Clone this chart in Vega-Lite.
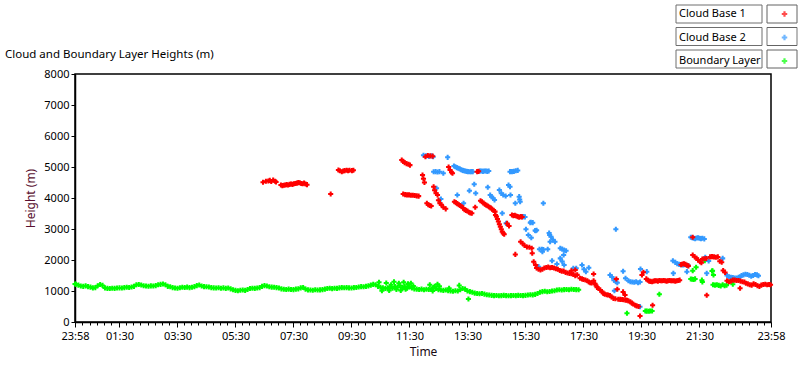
{
"$schema":"https://vega.github.io/schema/vega-lite/v6.json",
"width":696,"height":248,
"autosize":{"type":"none"},
"padding":{"left":75,"top":74,"right":29,"bottom":43},
"background":"white",
"config":{"view":{"stroke":"#000","strokeWidth":1.5},"font":"Noto Sans"},
"title":{"text":"Cloud and Boundary Layer Heights (m)","anchor":"start","frame":"group","dx":-70,"dy":62,"offset":10,"fontSize":11.5,"fontWeight":"normal","font":"Noto Sans","color":"#000"},
"datasets":{
"bl":[
{"t":"1 23:58","h":1225},{"t":"2 00:00","h":1220},{"t":"2 00:05","h":1190},{"t":"2 00:10","h":1160},{"t":"2 00:15","h":1150},{"t":"2 00:20","h":1165},{"t":"2 00:25","h":1140},{"t":"2 00:30","h":1125},{"t":"2 00:35","h":1100},{"t":"2 00:40","h":1110},{"t":"2 00:45","h":1170},{"t":"2 00:50","h":1210},{"t":"2 00:55","h":1180},
{"t":"2 01:00","h":1100},{"t":"2 01:05","h":1085},{"t":"2 01:10","h":1080},{"t":"2 01:15","h":1090},{"t":"2 01:20","h":1085},{"t":"2 01:25","h":1095},{"t":"2 01:30","h":1100},{"t":"2 01:35","h":1095},{"t":"2 01:40","h":1110},{"t":"2 01:45","h":1120},{"t":"2 01:50","h":1115},{"t":"2 01:55","h":1130},
{"t":"2 02:00","h":1150},{"t":"2 02:05","h":1200},{"t":"2 02:10","h":1210},{"t":"2 02:15","h":1195},{"t":"2 02:20","h":1170},{"t":"2 02:25","h":1160},{"t":"2 02:30","h":1155},{"t":"2 02:35","h":1165},{"t":"2 02:40","h":1160},{"t":"2 02:45","h":1175},{"t":"2 02:50","h":1200},{"t":"2 02:55","h":1215},
{"t":"2 03:00","h":1225},{"t":"2 03:05","h":1200},{"t":"2 03:10","h":1150},{"t":"2 03:15","h":1135},{"t":"2 03:20","h":1110},{"t":"2 03:25","h":1095},{"t":"2 03:30","h":1090},{"t":"2 03:35","h":1105},{"t":"2 03:40","h":1120},{"t":"2 03:45","h":1115},{"t":"2 03:50","h":1125},{"t":"2 03:55","h":1110},
{"t":"2 04:00","h":1120},{"t":"2 04:05","h":1140},{"t":"2 04:10","h":1175},{"t":"2 04:15","h":1195},{"t":"2 04:20","h":1160},{"t":"2 04:25","h":1140},{"t":"2 04:30","h":1135},{"t":"2 04:35","h":1130},{"t":"2 04:40","h":1110},{"t":"2 04:45","h":1100},{"t":"2 04:50","h":1095},{"t":"2 04:55","h":1105},
{"t":"2 05:00","h":1090},{"t":"2 05:05","h":1100},{"t":"2 05:10","h":1085},{"t":"2 05:15","h":1095},{"t":"2 05:20","h":1070},{"t":"2 05:25","h":1040},{"t":"2 05:30","h":1020},{"t":"2 05:35","h":1010},{"t":"2 05:40","h":1025},{"t":"2 05:45","h":1030},{"t":"2 05:50","h":1020},{"t":"2 05:55","h":1050},
{"t":"2 06:00","h":1080},{"t":"2 06:05","h":1090},{"t":"2 06:10","h":1085},{"t":"2 06:15","h":1095},{"t":"2 06:20","h":1110},{"t":"2 06:25","h":1150},{"t":"2 06:30","h":1175},{"t":"2 06:35","h":1160},{"t":"2 06:40","h":1135},{"t":"2 06:45","h":1125},{"t":"2 06:50","h":1120},{"t":"2 06:55","h":1110},
{"t":"2 07:00","h":1095},{"t":"2 07:05","h":1070},{"t":"2 07:10","h":1055},{"t":"2 07:15","h":1050},{"t":"2 07:20","h":1060},{"t":"2 07:25","h":1050},{"t":"2 07:30","h":1045},{"t":"2 07:35","h":1060},{"t":"2 07:40","h":1070},{"t":"2 07:45","h":1100},{"t":"2 07:50","h":1115},{"t":"2 07:55","h":1060},
{"t":"2 08:00","h":1035},{"t":"2 08:05","h":1030},{"t":"2 08:10","h":1025},{"t":"2 08:15","h":1040},{"t":"2 08:20","h":1030},{"t":"2 08:25","h":1035},{"t":"2 08:30","h":1045},{"t":"2 08:35","h":1060},{"t":"2 08:40","h":1080},{"t":"2 08:45","h":1090},{"t":"2 08:50","h":1075},{"t":"2 08:55","h":1090},
{"t":"2 09:00","h":1085},{"t":"2 09:05","h":1100},{"t":"2 09:10","h":1110},{"t":"2 09:15","h":1105},{"t":"2 09:20","h":1110},{"t":"2 09:25","h":1100},{"t":"2 09:30","h":1095},{"t":"2 09:35","h":1110},{"t":"2 09:40","h":1115},{"t":"2 09:45","h":1130},{"t":"2 09:50","h":1140},{"t":"2 09:55","h":1135},
{"t":"2 10:00","h":1150},{"t":"2 10:05","h":1165},{"t":"2 10:10","h":1190},{"t":"2 10:15","h":1215},{"t":"2 10:20","h":1200},{"t":"2 10:25","h":1150},{"t":"2 10:30","h":1120},{"t":"2 10:35","h":1100},{"t":"2 10:40","h":1080},{"t":"2 10:45","h":1100},{"t":"2 10:50","h":1130},{"t":"2 10:55","h":1090},
{"t":"2 11:00","h":1140},{"t":"2 11:05","h":1120},{"t":"2 11:10","h":1180},{"t":"2 11:15","h":1110},{"t":"2 11:20","h":1150},{"t":"2 11:25","h":1090},{"t":"2 11:30","h":1130},{"t":"2 11:35","h":1100},{"t":"2 11:40","h":1070},{"t":"2 11:45","h":1060},{"t":"2 11:50","h":1050},{"t":"2 11:55","h":1060},
{"t":"2 12:00","h":1040},{"t":"2 12:05","h":1055},{"t":"2 12:10","h":1050},{"t":"2 12:15","h":1065},{"t":"2 12:20","h":1110},{"t":"2 12:25","h":1080},{"t":"2 12:30","h":1040},{"t":"2 12:35","h":1030},{"t":"2 12:40","h":1020},{"t":"2 12:45","h":1030},{"t":"2 12:50","h":1010},{"t":"2 12:55","h":1000},
{"t":"2 13:00","h":990},{"t":"2 13:05","h":1010},{"t":"2 13:10","h":1000},{"t":"2 13:15","h":1040},{"t":"2 13:20","h":1080},{"t":"2 13:25","h":1060},{"t":"2 13:30","h":1000},{"t":"2 13:35","h":980},{"t":"2 13:40","h":960},{"t":"2 13:45","h":930},{"t":"2 13:50","h":920},{"t":"2 13:55","h":910},
{"t":"2 14:00","h":920},{"t":"2 14:05","h":900},{"t":"2 14:10","h":880},{"t":"2 14:15","h":870},{"t":"2 14:20","h":860},{"t":"2 14:25","h":850},{"t":"2 14:30","h":855},{"t":"2 14:35","h":845},{"t":"2 14:40","h":850},{"t":"2 14:45","h":860},{"t":"2 14:50","h":850},{"t":"2 14:55","h":845},
{"t":"2 15:00","h":850},{"t":"2 15:05","h":855},{"t":"2 15:10","h":850},{"t":"2 15:15","h":860},{"t":"2 15:20","h":855},{"t":"2 15:25","h":850},{"t":"2 15:30","h":860},{"t":"2 15:35","h":870},{"t":"2 15:40","h":880},{"t":"2 15:45","h":875},{"t":"2 15:50","h":890},{"t":"2 15:55","h":920},
{"t":"2 16:00","h":960},{"t":"2 16:05","h":980},{"t":"2 16:10","h":990},{"t":"2 16:15","h":975},{"t":"2 16:20","h":985},{"t":"2 16:25","h":1000},{"t":"2 16:30","h":1010},{"t":"2 16:35","h":1030},{"t":"2 16:40","h":1040},{"t":"2 16:45","h":1030},{"t":"2 16:50","h":1045},{"t":"2 16:55","h":1050},
{"t":"2 17:00","h":1040},{"t":"2 17:05","h":1055},{"t":"2 17:10","h":1050},{"t":"2 17:15","h":1045},{"t":"2 17:20","h":1040},
{"t":"2 10:27","h":1280},{"t":"2 10:33","h":1010},{"t":"2 10:42","h":1260},{"t":"2 10:48","h":1020},{"t":"2 10:52","h":1200},{"t":"2 10:58","h":1300},{"t":"2 11:03","h":1050},{"t":"2 11:08","h":1250},{"t":"2 11:12","h":1020},{"t":"2 11:18","h":1280},{"t":"2 11:22","h":1060},{"t":"2 11:27","h":1230},{"t":"2 11:33","h":1250},{"t":"2 11:38","h":1160},{"t":"2 12:12","h":1200},{"t":"2 12:18","h":1000},{"t":"2 12:22","h":1150},{"t":"2 12:28","h":1220},{"t":"2 12:32","h":1150},{"t":"2 12:52","h":1090},{"t":"2 13:13","h":1180},{"t":"2 13:32","h":740},
{"t":"2 19:00","h":280},{"t":"2 19:38","h":355},{"t":"2 19:41","h":350},{"t":"2 19:45","h":345},{"t":"2 19:48","h":355},{"t":"2 19:52","h":355},{"t":"2 20:07","h":893},
{"t":"2 21:12","h":1387},{"t":"2 21:15","h":1380},{"t":"2 21:18","h":1370},{"t":"2 21:21","h":1390},{"t":"2 21:16","h":1656},{"t":"2 21:23","h":1764},{"t":"2 21:35","h":1350},{"t":"2 21:36","h":1290},{"t":"2 21:41","h":1978},{"t":"2 21:56","h":1645},{"t":"2 21:57","h":1650},{"t":"2 21:59","h":1516},
{"t":"2 21:58","h":1200},{"t":"2 22:02","h":1190},{"t":"2 22:06","h":1200},{"t":"2 22:10","h":1180},{"t":"2 22:14","h":1160},{"t":"2 22:18","h":1200},{"t":"2 22:22","h":1170},{"t":"2 22:26","h":1190},{"t":"2 22:39","h":1216}
],
"cb1":[
{"t":"2 06:27","h":4507},{"t":"2 06:33","h":4540},{"t":"2 06:38","h":4549},{"t":"2 06:41","h":4570},{"t":"2 06:44","h":4530},{"t":"2 06:48","h":4580},{"t":"2 06:52","h":4540},{"t":"2 06:54","h":4515},
{"t":"2 07:04","h":4420},{"t":"2 07:07","h":4400},{"t":"2 07:10","h":4410},{"t":"2 07:13","h":4420},{"t":"2 07:16","h":4430},{"t":"2 07:19","h":4420},{"t":"2 07:22","h":4440},{"t":"2 07:25","h":4450},{"t":"2 07:28","h":4440},{"t":"2 07:31","h":4460},{"t":"2 07:34","h":4470},{"t":"2 07:37","h":4480},{"t":"2 07:40","h":4495},{"t":"2 07:43","h":4490},{"t":"2 07:46","h":4470},{"t":"2 07:49","h":4460},{"t":"2 07:52","h":4480},{"t":"2 07:55","h":4450},{"t":"2 07:58","h":4430},
{"t":"2 08:47","h":4129},
{"t":"2 09:03","h":4903},{"t":"2 09:06","h":4880},{"t":"2 09:10","h":4849},{"t":"2 09:13","h":4870},{"t":"2 09:16","h":4882},{"t":"2 09:20","h":4893},{"t":"2 09:23","h":4880},{"t":"2 09:26","h":4893},{"t":"2 09:31","h":4882},{"t":"2 09:34","h":4893},
{"t":"2 11:14","h":5226},{"t":"2 11:17","h":5180},{"t":"2 11:20","h":5140},{"t":"2 11:24","h":5110},{"t":"2 11:28","h":5087},{"t":"2 11:31","h":5060},
{"t":"2 11:17","h":4130},{"t":"2 11:21","h":4110},{"t":"2 11:25","h":4100},{"t":"2 11:29","h":4100},{"t":"2 11:33","h":4090},{"t":"2 11:37","h":4090},{"t":"2 11:41","h":4080},{"t":"2 11:45","h":4070},{"t":"2 11:49","h":4060},
{"t":"2 11:57","h":4740},{"t":"2 11:59","h":4620},{"t":"2 12:01","h":4500},
{"t":"2 12:03","h":5330},{"t":"2 12:08","h":5370},{"t":"2 12:13","h":5360},{"t":"2 12:18","h":5350},
{"t":"2 12:06","h":3830},{"t":"2 12:09","h":3780},{"t":"2 12:12","h":3760},{"t":"2 12:15","h":3740},
{"t":"2 12:20","h":4360},{"t":"2 12:22","h":4250},{"t":"2 12:25","h":4150},{"t":"2 12:28","h":4100},
{"t":"2 12:30","h":3930},{"t":"2 12:33","h":3830},{"t":"2 12:36","h":3780},{"t":"2 12:40","h":3700},{"t":"2 12:45","h":3650},
{"t":"2 12:51","h":5000},{"t":"2 12:54","h":4900},{"t":"2 12:57","h":4830},{"t":"2 12:59","h":4800},
{"t":"2 13:03","h":3880},{"t":"2 13:06","h":3850},{"t":"2 13:09","h":3820},{"t":"2 13:12","h":3780},{"t":"2 13:15","h":3760},{"t":"2 13:18","h":3720},{"t":"2 13:21","h":3680},{"t":"2 13:24","h":3620},{"t":"2 13:27","h":3600},{"t":"2 13:30","h":3580},{"t":"2 13:33","h":3540},{"t":"2 13:36","h":3520},{"t":"2 13:39","h":3510},{"t":"2 13:46","h":3700},
{"t":"2 13:50","h":4850},{"t":"2 13:53","h":4860},
{"t":"2 13:57","h":3910},{"t":"2 14:00","h":3880},{"t":"2 14:03","h":3840},{"t":"2 14:06","h":3800},{"t":"2 14:09","h":3770},{"t":"2 14:12","h":3740},{"t":"2 14:15","h":3710},{"t":"2 14:18","h":3680},{"t":"2 14:21","h":3640},{"t":"2 14:24","h":3600},{"t":"2 14:27","h":3560},
{"t":"2 14:28","h":3450},{"t":"2 14:30","h":3400},{"t":"2 14:32","h":3320},{"t":"2 14:34","h":3240},{"t":"2 14:36","h":3150},{"t":"2 14:38","h":3070},{"t":"2 14:40","h":2990},{"t":"2 14:42","h":2910},{"t":"2 14:44","h":2860},{"t":"2 14:46","h":2830},
{"t":"2 14:52","h":3180},{"t":"2 14:56","h":3100},
{"t":"2 15:02","h":3450},{"t":"2 15:05","h":3430},{"t":"2 15:08","h":3440},{"t":"2 15:11","h":3420},{"t":"2 15:14","h":3400},{"t":"2 15:17","h":3380},{"t":"2 15:20","h":3400},{"t":"2 15:23","h":3390},
{"t":"2 15:09","h":2180},
{"t":"2 15:20","h":2590},{"t":"2 15:24","h":2530},{"t":"2 15:28","h":2470},{"t":"2 15:33","h":2420},{"t":"2 15:38","h":2410},{"t":"2 15:43","h":2380},{"t":"2 15:44","h":2220},{"t":"2 15:47","h":1945},{"t":"2 15:51","h":1840},
{"t":"2 15:53","h":1740},{"t":"2 15:57","h":1700},{"t":"2 16:01","h":1680},{"t":"2 16:05","h":1700},{"t":"2 16:09","h":1740},{"t":"2 16:13","h":1760},{"t":"2 16:17","h":1770},{"t":"2 16:21","h":1750},{"t":"2 16:25","h":1760},{"t":"2 16:29","h":1740},{"t":"2 16:33","h":1720},{"t":"2 16:37","h":1700},{"t":"2 16:41","h":1660},{"t":"2 16:45","h":1640},{"t":"2 16:49","h":1640},{"t":"2 16:53","h":1600},{"t":"2 16:57","h":1580},{"t":"2 17:01","h":1570},{"t":"2 17:05","h":1560},{"t":"2 17:09","h":1530},{"t":"2 17:13","h":1490},{"t":"2 17:17","h":1520},{"t":"2 17:13","h":1678},{"t":"2 17:05","h":1650},
{"t":"2 17:23","h":1409},{"t":"2 17:27","h":1390},{"t":"2 17:30","h":1370},{"t":"2 17:34","h":1355},{"t":"2 17:38","h":1330},{"t":"2 17:41","h":1290},{"t":"2 17:44","h":1268},{"t":"2 17:47","h":1260},{"t":"2 17:51","h":1333},{"t":"2 17:54","h":1230},{"t":"2 17:56","h":1180},{"t":"2 17:58","h":1118},
{"t":"2 18:01","h":1080},{"t":"2 18:05","h":1032},{"t":"2 18:08","h":980},{"t":"2 18:11","h":925},{"t":"2 18:14","h":900},{"t":"2 18:18","h":880},{"t":"2 18:21","h":870},{"t":"2 18:25","h":850},{"t":"2 18:28","h":810},{"t":"2 18:32","h":763},{"t":"2 18:36","h":750},{"t":"2 18:42","h":735},{"t":"2 18:46","h":730},{"t":"2 18:50","h":725},{"t":"2 18:53","h":720},{"t":"2 18:57","h":705},{"t":"2 19:00","h":700},{"t":"2 19:03","h":680},{"t":"2 19:07","h":650},{"t":"2 19:10","h":610},{"t":"2 19:13","h":580},{"t":"2 19:17","h":540},{"t":"2 19:20","h":520},{"t":"2 19:24","h":500},{"t":"2 19:27","h":194},
{"t":"2 17:51","h":1548},{"t":"2 18:38","h":1387},{"t":"2 18:40","h":1055},{"t":"2 18:52","h":971},{"t":"2 18:56","h":871},{"t":"2 19:31","h":1516},{"t":"2 19:34","h":1603},{"t":"2 19:53","h":538},{"t":"2 21:45","h":861},{"t":"2 22:54","h":1087},
{"t":"2 19:40","h":1390},{"t":"2 19:43","h":1350},{"t":"2 19:46","h":1320},{"t":"2 19:49","h":1310},{"t":"2 19:52","h":1300},{"t":"2 19:55","h":1320},{"t":"2 19:58","h":1330},{"t":"2 20:01","h":1330},{"t":"2 20:04","h":1320},{"t":"2 20:07","h":1340},{"t":"2 20:10","h":1330},{"t":"2 20:13","h":1330},{"t":"2 20:16","h":1340},{"t":"2 20:19","h":1330},{"t":"2 20:22","h":1320},{"t":"2 20:25","h":1330},{"t":"2 20:28","h":1340},{"t":"2 20:31","h":1330},{"t":"2 20:34","h":1330},{"t":"2 20:37","h":1330},{"t":"2 20:40","h":1320},{"t":"2 20:43","h":1330},{"t":"2 20:46","h":1340},{"t":"2 20:49","h":1350},
{"t":"2 20:52","h":1850},{"t":"2 20:55","h":1870},{"t":"2 20:58","h":1880},{"t":"2 21:01","h":1860},{"t":"2 21:04","h":1830},{"t":"2 21:07","h":1810},
{"t":"2 21:16","h":2732},{"t":"2 21:16","h":2161},{"t":"2 21:20","h":2107},{"t":"2 21:24","h":2053},{"t":"2 21:27","h":2000},{"t":"2 21:31","h":1945},{"t":"2 21:34","h":1913},{"t":"2 21:36","h":2030},{"t":"2 21:40","h":2040},{"t":"2 21:44","h":2050},
{"t":"2 21:52","h":2100},{"t":"2 21:56","h":2110},{"t":"2 22:00","h":2100},{"t":"2 22:04","h":2090},{"t":"2 22:08","h":2100},{"t":"2 22:12","h":1960},{"t":"2 22:16","h":1930},{"t":"2 22:19","h":1660},{"t":"2 22:23","h":1600},
{"t":"2 22:27","h":1330},{"t":"2 22:31","h":1300},{"t":"2 22:35","h":1320},{"t":"2 22:39","h":1350},{"t":"2 22:43","h":1350},{"t":"2 22:47","h":1340},{"t":"2 22:51","h":1340},{"t":"2 22:55","h":1320},{"t":"2 22:59","h":1300},{"t":"2 23:03","h":1290},
{"t":"2 23:06","h":1250},{"t":"2 23:10","h":1230},{"t":"2 23:14","h":1200},{"t":"2 23:18","h":1190},{"t":"2 23:22","h":1230},{"t":"2 23:26","h":1210},{"t":"2 23:30","h":1170},{"t":"2 23:34","h":1150},{"t":"2 23:38","h":1190},{"t":"2 23:42","h":1210},{"t":"2 23:46","h":1220},{"t":"2 23:50","h":1200},{"t":"2 23:54","h":1210},{"t":"2 23:57","h":1200}
],
"cb2":[
{"t":"2 11:59","h":5380},{"t":"2 12:04","h":5360},{"t":"2 12:10","h":5340},{"t":"2 12:16","h":5360},{"t":"2 12:19","h":5330},{"t":"2 12:49","h":5312},
{"t":"2 13:02","h":5032},{"t":"2 13:05","h":5010},{"t":"2 13:08","h":4980},{"t":"2 13:11","h":4958},{"t":"2 13:14","h":4940},{"t":"2 13:17","h":4910},{"t":"2 13:20","h":4890},{"t":"2 13:22","h":4882},{"t":"2 13:25","h":4870},{"t":"2 13:28","h":4860},{"t":"2 13:31","h":4850},{"t":"2 13:35","h":4849},{"t":"2 13:38","h":4850},{"t":"2 13:41","h":4850},
{"t":"2 13:56","h":4870},{"t":"2 13:59","h":4870},{"t":"2 14:02","h":4860},{"t":"2 14:05","h":4870},{"t":"2 14:08","h":4870},{"t":"2 14:11","h":4860},{"t":"2 14:14","h":4870},
{"t":"2 12:20","h":4849},{"t":"2 12:24","h":4850},{"t":"2 12:28","h":4840},{"t":"2 12:32","h":4850},{"t":"2 12:40","h":4797},
{"t":"2 14:58","h":4850},{"t":"2 15:02","h":4850},{"t":"2 15:06","h":4860},{"t":"2 15:10","h":4880},{"t":"2 15:14","h":4890},
{"t":"2 13:44","h":4442},{"t":"2 13:34","h":4236},{"t":"2 13:47","h":4152},{"t":"2 14:12","h":4345},{"t":"2 13:09","h":4097},{"t":"2 12:26","h":4313},
{"t":"2 14:17","h":4097},{"t":"2 14:20","h":4040},{"t":"2 14:23","h":3990},{"t":"2 14:26","h":3935},
{"t":"2 14:36","h":4258},{"t":"2 14:40","h":4150},{"t":"2 14:44","h":4097},{"t":"2 14:55","h":4420},{"t":"2 14:58","h":4365},{"t":"2 14:49","h":4065},{"t":"2 14:59","h":4097},
{"t":"2 15:17","h":4043},{"t":"2 15:18","h":3950},{"t":"2 15:19","h":3881},{"t":"2 15:09","h":3829},{"t":"2 16:07","h":3829},{"t":"2 14:42","h":3506},{"t":"2 14:50","h":3183},
{"t":"2 15:23","h":3398},{"t":"2 15:26","h":3398},{"t":"2 15:29","h":3390},{"t":"2 15:31","h":2990},{"t":"2 15:41","h":3216},{"t":"2 15:51","h":2946},{"t":"2 15:36","h":2807},{"t":"2 15:42","h":2720},{"t":"2 16:20","h":2807},
{"t":"2 15:59","h":2345},{"t":"2 16:04","h":2345},{"t":"2 16:07","h":2340},{"t":"2 16:16","h":2345},{"t":"2 16:21","h":2590},{"t":"2 13:22","h":3829},{"t":"2 12:35","h":3968},
{"t":"2 16:42","h":2377},{"t":"2 16:46","h":2350},{"t":"2 16:50","h":2320},{"t":"2 16:54","h":2300},{"t":"2 16:49","h":2161},{"t":"2 17:09","h":1732},
{"t":"2 16:19","h":2870},{"t":"2 16:23","h":2750},{"t":"2 16:27","h":2650},{"t":"2 16:31","h":2590},{"t":"2 16:25","h":1978},{"t":"2 16:35","h":1871},{"t":"2 16:42","h":2053},
{"t":"2 15:40","h":3205},{"t":"2 15:45","h":3205},{"t":"2 15:50","h":2950},{"t":"2 15:53","h":2960},{"t":"2 15:57","h":1785},{"t":"2 16:05","h":2270},{"t":"2 16:46","h":1950},{"t":"2 16:50","h":1839},{"t":"2 17:15","h":1732},
{"t":"2 17:27","h":1839},{"t":"2 17:31","h":1700},{"t":"2 17:35","h":1624},{"t":"2 17:41","h":1750},
{"t":"2 18:25","h":1516},{"t":"2 18:29","h":1450},{"t":"2 18:33","h":1350},{"t":"2 18:37","h":1300},{"t":"2 18:40","h":1268},{"t":"2 18:37","h":2990},{"t":"2 18:34","h":1010},
{"t":"2 18:52","h":1636},{"t":"2 18:57","h":1409},{"t":"2 19:03","h":1333},{"t":"2 19:07","h":1300},{"t":"2 19:11","h":1290},{"t":"2 19:15","h":1280},{"t":"2 19:19","h":1300},{"t":"2 19:23","h":1268},{"t":"2 19:27","h":1290},{"t":"2 19:28","h":1710},{"t":"2 19:41","h":1624},{"t":"2 19:27","h":495},
{"t":"2 20:35","h":1978},{"t":"2 20:40","h":1925},{"t":"2 20:44","h":1880},{"t":"2 20:48","h":1860},{"t":"2 20:52","h":1850},{"t":"2 20:56","h":1840},{"t":"2 21:00","h":1850},{"t":"2 21:04","h":1830},{"t":"2 21:07","h":1818},{"t":"2 20:36","h":1570},{"t":"2 21:04","h":1624},
{"t":"2 21:12","h":2732},{"t":"2 21:15","h":2720},{"t":"2 21:18","h":2700},{"t":"2 21:21","h":2690},{"t":"2 21:24","h":2710},{"t":"2 21:27","h":2720},{"t":"2 21:30","h":2700},{"t":"2 21:33","h":2690},{"t":"2 21:36","h":2700},{"t":"2 21:40","h":2680},
{"t":"2 21:42","h":2087},{"t":"2 21:45","h":1570},{"t":"2 21:49","h":1968},{"t":"2 22:18","h":2053},
{"t":"2 22:27","h":1500},{"t":"2 22:31","h":1460},{"t":"2 22:35","h":1440},{"t":"2 22:39","h":1430},{"t":"2 22:43","h":1420},{"t":"2 22:47","h":1420},{"t":"2 22:51","h":1440},{"t":"2 22:54","h":1450},{"t":"2 22:57","h":1500},{"t":"2 23:01","h":1520},{"t":"2 23:05","h":1540},{"t":"2 23:09","h":1530},{"t":"2 23:13","h":1510},{"t":"2 23:17","h":1480},{"t":"2 23:21","h":1500},{"t":"2 23:25","h":1530},{"t":"2 23:29","h":1520},{"t":"2 23:32","h":1490}
]
},
"encoding":{
"x":{"field":"t","type":"temporal",
 "scale":{"domain":[{"year":1900,"month":1,"date":1,"hours":23,"minutes":58},{"year":1900,"month":1,"date":2,"hours":23,"minutes":58}]},
 "axis":{"title":"Time","titleFontSize":12,"titleFontWeight":"normal","titleColor":"#1a0a14","titlePadding":5,
  "labelFontSize":11,"labelColor":"#000","labelFlush":false,"labelOverlap":false,"labelPadding":3,"grid":false,
  "domainColor":"#000","domainWidth":1.5,"tickColor":"#000","tickWidth":1,
  "tickSize":{"condition":{"test":"minutes(datum.value)==30 || (hours(datum.value)==23 && minutes(datum.value)==58)","value":5},"value":3},
  "labelExpr":"minutes(datum.value)==30 || (hours(datum.value)==23 && minutes(datum.value)==58) ? timeFormat(datum.value, '%H:%M') : ''",
  "values":[
{"year":1900,"month":1,"date":1,"hours":23,"minutes":58},
{"year":1900,"month":1,"date":2,"hours":0,"minutes":13},{"year":1900,"month":1,"date":2,"hours":0,"minutes":28},{"year":1900,"month":1,"date":2,"hours":0,"minutes":43},{"year":1900,"month":1,"date":2,"hours":0,"minutes":58},
{"year":1900,"month":1,"date":2,"hours":1,"minutes":13},{"year":1900,"month":1,"date":2,"hours":1,"minutes":28},{"year":1900,"month":1,"date":2,"hours":1,"minutes":43},{"year":1900,"month":1,"date":2,"hours":1,"minutes":58},
{"year":1900,"month":1,"date":2,"hours":2,"minutes":13},{"year":1900,"month":1,"date":2,"hours":2,"minutes":28},{"year":1900,"month":1,"date":2,"hours":2,"minutes":43},{"year":1900,"month":1,"date":2,"hours":2,"minutes":58},
{"year":1900,"month":1,"date":2,"hours":3,"minutes":13},{"year":1900,"month":1,"date":2,"hours":3,"minutes":28},{"year":1900,"month":1,"date":2,"hours":3,"minutes":43},{"year":1900,"month":1,"date":2,"hours":3,"minutes":58},
{"year":1900,"month":1,"date":2,"hours":4,"minutes":13},{"year":1900,"month":1,"date":2,"hours":4,"minutes":28},{"year":1900,"month":1,"date":2,"hours":4,"minutes":43},{"year":1900,"month":1,"date":2,"hours":4,"minutes":58},
{"year":1900,"month":1,"date":2,"hours":5,"minutes":13},{"year":1900,"month":1,"date":2,"hours":5,"minutes":28},{"year":1900,"month":1,"date":2,"hours":5,"minutes":43},{"year":1900,"month":1,"date":2,"hours":5,"minutes":58},
{"year":1900,"month":1,"date":2,"hours":6,"minutes":13},{"year":1900,"month":1,"date":2,"hours":6,"minutes":28},{"year":1900,"month":1,"date":2,"hours":6,"minutes":43},{"year":1900,"month":1,"date":2,"hours":6,"minutes":58},
{"year":1900,"month":1,"date":2,"hours":7,"minutes":13},{"year":1900,"month":1,"date":2,"hours":7,"minutes":28},{"year":1900,"month":1,"date":2,"hours":7,"minutes":43},{"year":1900,"month":1,"date":2,"hours":7,"minutes":58},
{"year":1900,"month":1,"date":2,"hours":8,"minutes":13},{"year":1900,"month":1,"date":2,"hours":8,"minutes":28},{"year":1900,"month":1,"date":2,"hours":8,"minutes":43},{"year":1900,"month":1,"date":2,"hours":8,"minutes":58},
{"year":1900,"month":1,"date":2,"hours":9,"minutes":13},{"year":1900,"month":1,"date":2,"hours":9,"minutes":28},{"year":1900,"month":1,"date":2,"hours":9,"minutes":43},{"year":1900,"month":1,"date":2,"hours":9,"minutes":58},
{"year":1900,"month":1,"date":2,"hours":10,"minutes":13},{"year":1900,"month":1,"date":2,"hours":10,"minutes":28},{"year":1900,"month":1,"date":2,"hours":10,"minutes":43},{"year":1900,"month":1,"date":2,"hours":10,"minutes":58},
{"year":1900,"month":1,"date":2,"hours":11,"minutes":13},{"year":1900,"month":1,"date":2,"hours":11,"minutes":28},{"year":1900,"month":1,"date":2,"hours":11,"minutes":43},{"year":1900,"month":1,"date":2,"hours":11,"minutes":58},
{"year":1900,"month":1,"date":2,"hours":12,"minutes":13},{"year":1900,"month":1,"date":2,"hours":12,"minutes":28},{"year":1900,"month":1,"date":2,"hours":12,"minutes":43},{"year":1900,"month":1,"date":2,"hours":12,"minutes":58},
{"year":1900,"month":1,"date":2,"hours":13,"minutes":13},{"year":1900,"month":1,"date":2,"hours":13,"minutes":28},{"year":1900,"month":1,"date":2,"hours":13,"minutes":43},{"year":1900,"month":1,"date":2,"hours":13,"minutes":58},
{"year":1900,"month":1,"date":2,"hours":14,"minutes":13},{"year":1900,"month":1,"date":2,"hours":14,"minutes":28},{"year":1900,"month":1,"date":2,"hours":14,"minutes":43},{"year":1900,"month":1,"date":2,"hours":14,"minutes":58},
{"year":1900,"month":1,"date":2,"hours":15,"minutes":13},{"year":1900,"month":1,"date":2,"hours":15,"minutes":28},{"year":1900,"month":1,"date":2,"hours":15,"minutes":43},{"year":1900,"month":1,"date":2,"hours":15,"minutes":58},
{"year":1900,"month":1,"date":2,"hours":16,"minutes":13},{"year":1900,"month":1,"date":2,"hours":16,"minutes":28},{"year":1900,"month":1,"date":2,"hours":16,"minutes":43},{"year":1900,"month":1,"date":2,"hours":16,"minutes":58},
{"year":1900,"month":1,"date":2,"hours":17,"minutes":13},{"year":1900,"month":1,"date":2,"hours":17,"minutes":28},{"year":1900,"month":1,"date":2,"hours":17,"minutes":43},{"year":1900,"month":1,"date":2,"hours":17,"minutes":58},
{"year":1900,"month":1,"date":2,"hours":18,"minutes":13},{"year":1900,"month":1,"date":2,"hours":18,"minutes":28},{"year":1900,"month":1,"date":2,"hours":18,"minutes":43},{"year":1900,"month":1,"date":2,"hours":18,"minutes":58},
{"year":1900,"month":1,"date":2,"hours":19,"minutes":13},{"year":1900,"month":1,"date":2,"hours":19,"minutes":28},{"year":1900,"month":1,"date":2,"hours":19,"minutes":43},{"year":1900,"month":1,"date":2,"hours":19,"minutes":58},
{"year":1900,"month":1,"date":2,"hours":20,"minutes":13},{"year":1900,"month":1,"date":2,"hours":20,"minutes":28},{"year":1900,"month":1,"date":2,"hours":20,"minutes":43},{"year":1900,"month":1,"date":2,"hours":20,"minutes":58},
{"year":1900,"month":1,"date":2,"hours":21,"minutes":13},{"year":1900,"month":1,"date":2,"hours":21,"minutes":28},{"year":1900,"month":1,"date":2,"hours":21,"minutes":43},{"year":1900,"month":1,"date":2,"hours":21,"minutes":58},
{"year":1900,"month":1,"date":2,"hours":22,"minutes":13},{"year":1900,"month":1,"date":2,"hours":22,"minutes":28},{"year":1900,"month":1,"date":2,"hours":22,"minutes":43},{"year":1900,"month":1,"date":2,"hours":22,"minutes":58},
{"year":1900,"month":1,"date":2,"hours":23,"minutes":13},{"year":1900,"month":1,"date":2,"hours":23,"minutes":28},{"year":1900,"month":1,"date":2,"hours":23,"minutes":43},{"year":1900,"month":1,"date":2,"hours":23,"minutes":58},
{"year":1900,"month":1,"date":2,"hours":1,"minutes":30},{"year":1900,"month":1,"date":2,"hours":3,"minutes":30},{"year":1900,"month":1,"date":2,"hours":5,"minutes":30},{"year":1900,"month":1,"date":2,"hours":7,"minutes":30},{"year":1900,"month":1,"date":2,"hours":9,"minutes":30},{"year":1900,"month":1,"date":2,"hours":11,"minutes":30},{"year":1900,"month":1,"date":2,"hours":13,"minutes":30},{"year":1900,"month":1,"date":2,"hours":15,"minutes":30},{"year":1900,"month":1,"date":2,"hours":17,"minutes":30},{"year":1900,"month":1,"date":2,"hours":19,"minutes":30},{"year":1900,"month":1,"date":2,"hours":21,"minutes":30}
  ]}},
"y":{"field":"h","type":"quantitative",
 "scale":{"domain":[0,8000],"nice":false,"zero":false},
 "axis":{"title":"Height (m)","titleFontSize":12,"titleFontWeight":"normal","titleColor":"#5a1030","titlePadding":6,
  "values":[0,1000,2000,3000,4000,5000,6000,7000,8000],"format":"d","labelFontSize":11,"labelColor":"#000","labelPadding":2,"tickSize":4,"tickColor":"#000","grid":false,"domainColor":"#000","domainWidth":1.5,"labelFlush":false}}
},
"layer":[
{"data":{"name":"bl","format":{"parse":{"t":"date:'%d %H:%M'"}}},
 "mark":{"type":"point","shape":"cross","filled":true,"size":26,"strokeWidth":0},
 "encoding":{
  "color":{"datum":"Boundary Layer","type":"nominal",
   "scale":{"domain":["Cloud Base 1","Cloud Base 2","Boundary Layer"],"range":["#ff0000","#3399ff","#00ff00"]},
   "legend":{"orient":"none","legendX":704,"legendY":-65.5,"title":null,"symbolType":"cross","symbolSize":30,"symbolStrokeWidth":0,"labelFontSize":11,"labelFont":"Noto Sans","labelColor":"#000","labelOffset":-111,"rowPadding":11.5,"padding":0,"zindex":3}},
  "opacity":{"datum":"l3","type":"nominal",
   "scale":{"domain":["l1","l2","l3"],"range":[1,1,1]},
   "legend":{"orient":"none","legendX":638.5,"legendY":-65.5,"title":null,"symbolType":"M-8.6,-1.8H8.6V1.8H-8.6Z","symbolSize":100,"symbolStrokeWidth":1,"symbolFillColor":"transparent","symbolStrokeColor":"#6e6e6e","labelExpr":"''","labelFontSize":1,"rowPadding":-0.5,"padding":0,"zindex":1,
    "encoding":{"symbols":{"fill":{"value":"transparent"},"stroke":{"value":"#6e6e6e"},"strokeWidth":{"value":1}}}}},
  "strokeDash":{"datum":"i3","type":"nominal",
   "scale":{"domain":["i1","i2","i3"],"range":[[1,0],[1,0],[1,0]]},
   "legend":{"orient":"none","legendX":701.5,"legendY":-65.5,"title":null,"symbolType":"M-3,-1.8H3V1.8H-3Z","symbolSize":100,"symbolStrokeWidth":1,"symbolFillColor":"transparent","symbolStrokeColor":"#222222","labelExpr":"''","labelFontSize":1,"rowPadding":-0.5,"padding":0,"zindex":1,
    "encoding":{"symbols":{"fill":{"value":"transparent"},"stroke":{"value":"#222222"},"strokeWidth":{"value":1}}}}}
 }},
{"data":{"name":"cb2","format":{"parse":{"t":"date:'%d %H:%M'"}}},
 "mark":{"type":"point","shape":"cross","filled":true,"size":26,"strokeWidth":0},
 "encoding":{"color":{"datum":"Cloud Base 2","type":"nominal"},"opacity":{"datum":"l2","type":"nominal"},"strokeDash":{"datum":"i2","type":"nominal"}}},
{"data":{"name":"cb1","format":{"parse":{"t":"date:'%d %H:%M'"}}},
 "mark":{"type":"point","shape":"cross","filled":true,"size":26,"strokeWidth":0},
 "encoding":{"color":{"datum":"Cloud Base 1","type":"nominal"},"opacity":{"datum":"l1","type":"nominal"},"strokeDash":{"datum":"i1","type":"nominal"}}}
]
}
